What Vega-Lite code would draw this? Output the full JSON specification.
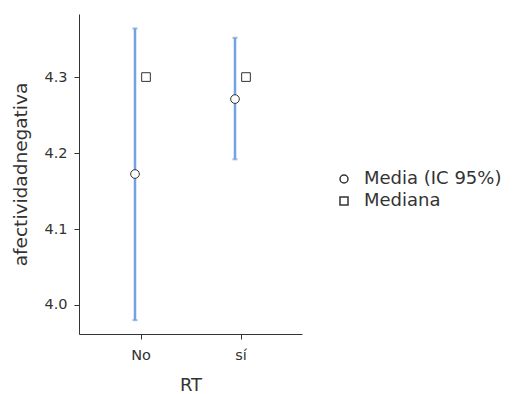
{
  "$schema": "https://vega.github.io/schema/vega-lite/v6.json",
  "width": 223,
  "height": 320,
  "autosize": {"type": "none"},
  "padding": {"left": 79, "top": 14, "right": 211, "bottom": 60},
  "background": "white",
  "config": {
    "view": {"stroke": null},
    "font": "DejaVu Sans",
    "axis": {
      "domainColor": "#333333",
      "domainWidth": 1,
      "tickColor": "#333333",
      "tickSize": 5,
      "labelColor": "#333333",
      "labelFontSize": 14,
      "labelFont": "DejaVu Sans",
      "titleColor": "#333333",
      "titleFont": "DejaVu Sans",
      "titleFontWeight": "normal",
      "titleFontSize": 18,
      "grid": false
    }
  },
  "datasets": {
    "ci": [
      {"RT": "No", "media": 4.1724, "lo": 3.980, "hi": 4.364},
      {"RT": "sí", "media": 4.271, "lo": 4.1917, "hi": 4.3517}
    ],
    "pts": [
      {"RT": "No", "stat": "Media (IC 95%)", "valor": 4.1724},
      {"RT": "sí", "stat": "Media (IC 95%)", "valor": 4.271},
      {"RT": "No", "stat": "Mediana", "valor": 4.3},
      {"RT": "sí", "stat": "Mediana", "valor": 4.3}
    ]
  },
  "encoding": {
    "x": {
      "field": "RT",
      "type": "nominal",
      "scale": {"type": "point", "padding": 0.615, "domain": ["No", "sí"]},
      "axis": {"labelAngle": 0, "title": "RT", "labelFontSize": 14.5, "titleFontSize": 18, "labelPadding": 9, "titlePadding": 15}
    }
  },
  "layer": [
    {
      "data": {"name": "ci"},
      "mark": {"type": "rule", "color": "#72a2e3", "strokeWidth": 2.5},
      "encoding": {
        "xOffset": {"value": -5.5},
        "y": {
          "field": "lo",
          "type": "quantitative",
          "scale": {"domain": [3.9618, 4.383], "nice": false, "zero": false},
          "axis": {"values": [4.0, 4.1, 4.2, 4.3], "format": ".1f", "title": "afectividadnegativa", "labelFontSize": 14.5, "titleFontSize": 18.5, "titlePadding": 13, "labelPadding": 7}
        },
        "y2": {"field": "hi"}
      }
    },
    {
      "data": {"name": "ci"},
      "mark": {"type": "tick", "color": "#72a2e3", "size": 5, "thickness": 2},
      "encoding": {
        "xOffset": {"value": -5.5},
        "y": {"field": "lo", "type": "quantitative"}
      }
    },
    {
      "data": {"name": "ci"},
      "mark": {"type": "tick", "color": "#72a2e3", "size": 5, "thickness": 2},
      "encoding": {
        "xOffset": {"value": -5.5},
        "y": {"field": "hi", "type": "quantitative"}
      }
    },
    {
      "data": {"name": "pts"},
      "transform": [{"filter": "datum.stat === 'Media (IC 95%)'"}],
      "mark": {"type": "point", "filled": true, "fill": "white", "stroke": "#333333", "strokeWidth": 1, "size": 75, "opacity": 1},
      "encoding": {
        "xOffset": {"value": -5.5},
        "y": {"field": "valor", "type": "quantitative"},
        "shape": {
          "field": "stat",
          "type": "nominal",
          "scale": {"domain": ["Media (IC 95%)", "Mediana"], "range": ["circle", "square"]},
          "legend": {
            "title": null,
            "orient": "none",
            "legendX": 256,
            "legendY": 156,
            "labelFontSize": 18,
            "labelFont": "DejaVu Sans",
            "labelColor": "#333333",
            "symbolSize": 64,
            "labelOffset": 11,
            "rowPadding": 4,
            "encode": {
              "symbols": {
                "update": {
                  "stroke": {"value": "#333333"},
                  "strokeWidth": {"value": 1},
                  "fill": {"value": "white"},
                  "opacity": {"value": 1}
                }
              }
            }
          }
        }
      }
    },
    {
      "data": {"name": "pts"},
      "transform": [{"filter": "datum.stat === 'Mediana'"}],
      "mark": {"type": "point", "filled": true, "fill": "white", "stroke": "#333333", "strokeWidth": 1, "size": 75, "opacity": 1},
      "encoding": {
        "xOffset": {"value": 5.5},
        "y": {"field": "valor", "type": "quantitative"},
        "shape": {"field": "stat", "type": "nominal"}
      }
    }
  ]
}
